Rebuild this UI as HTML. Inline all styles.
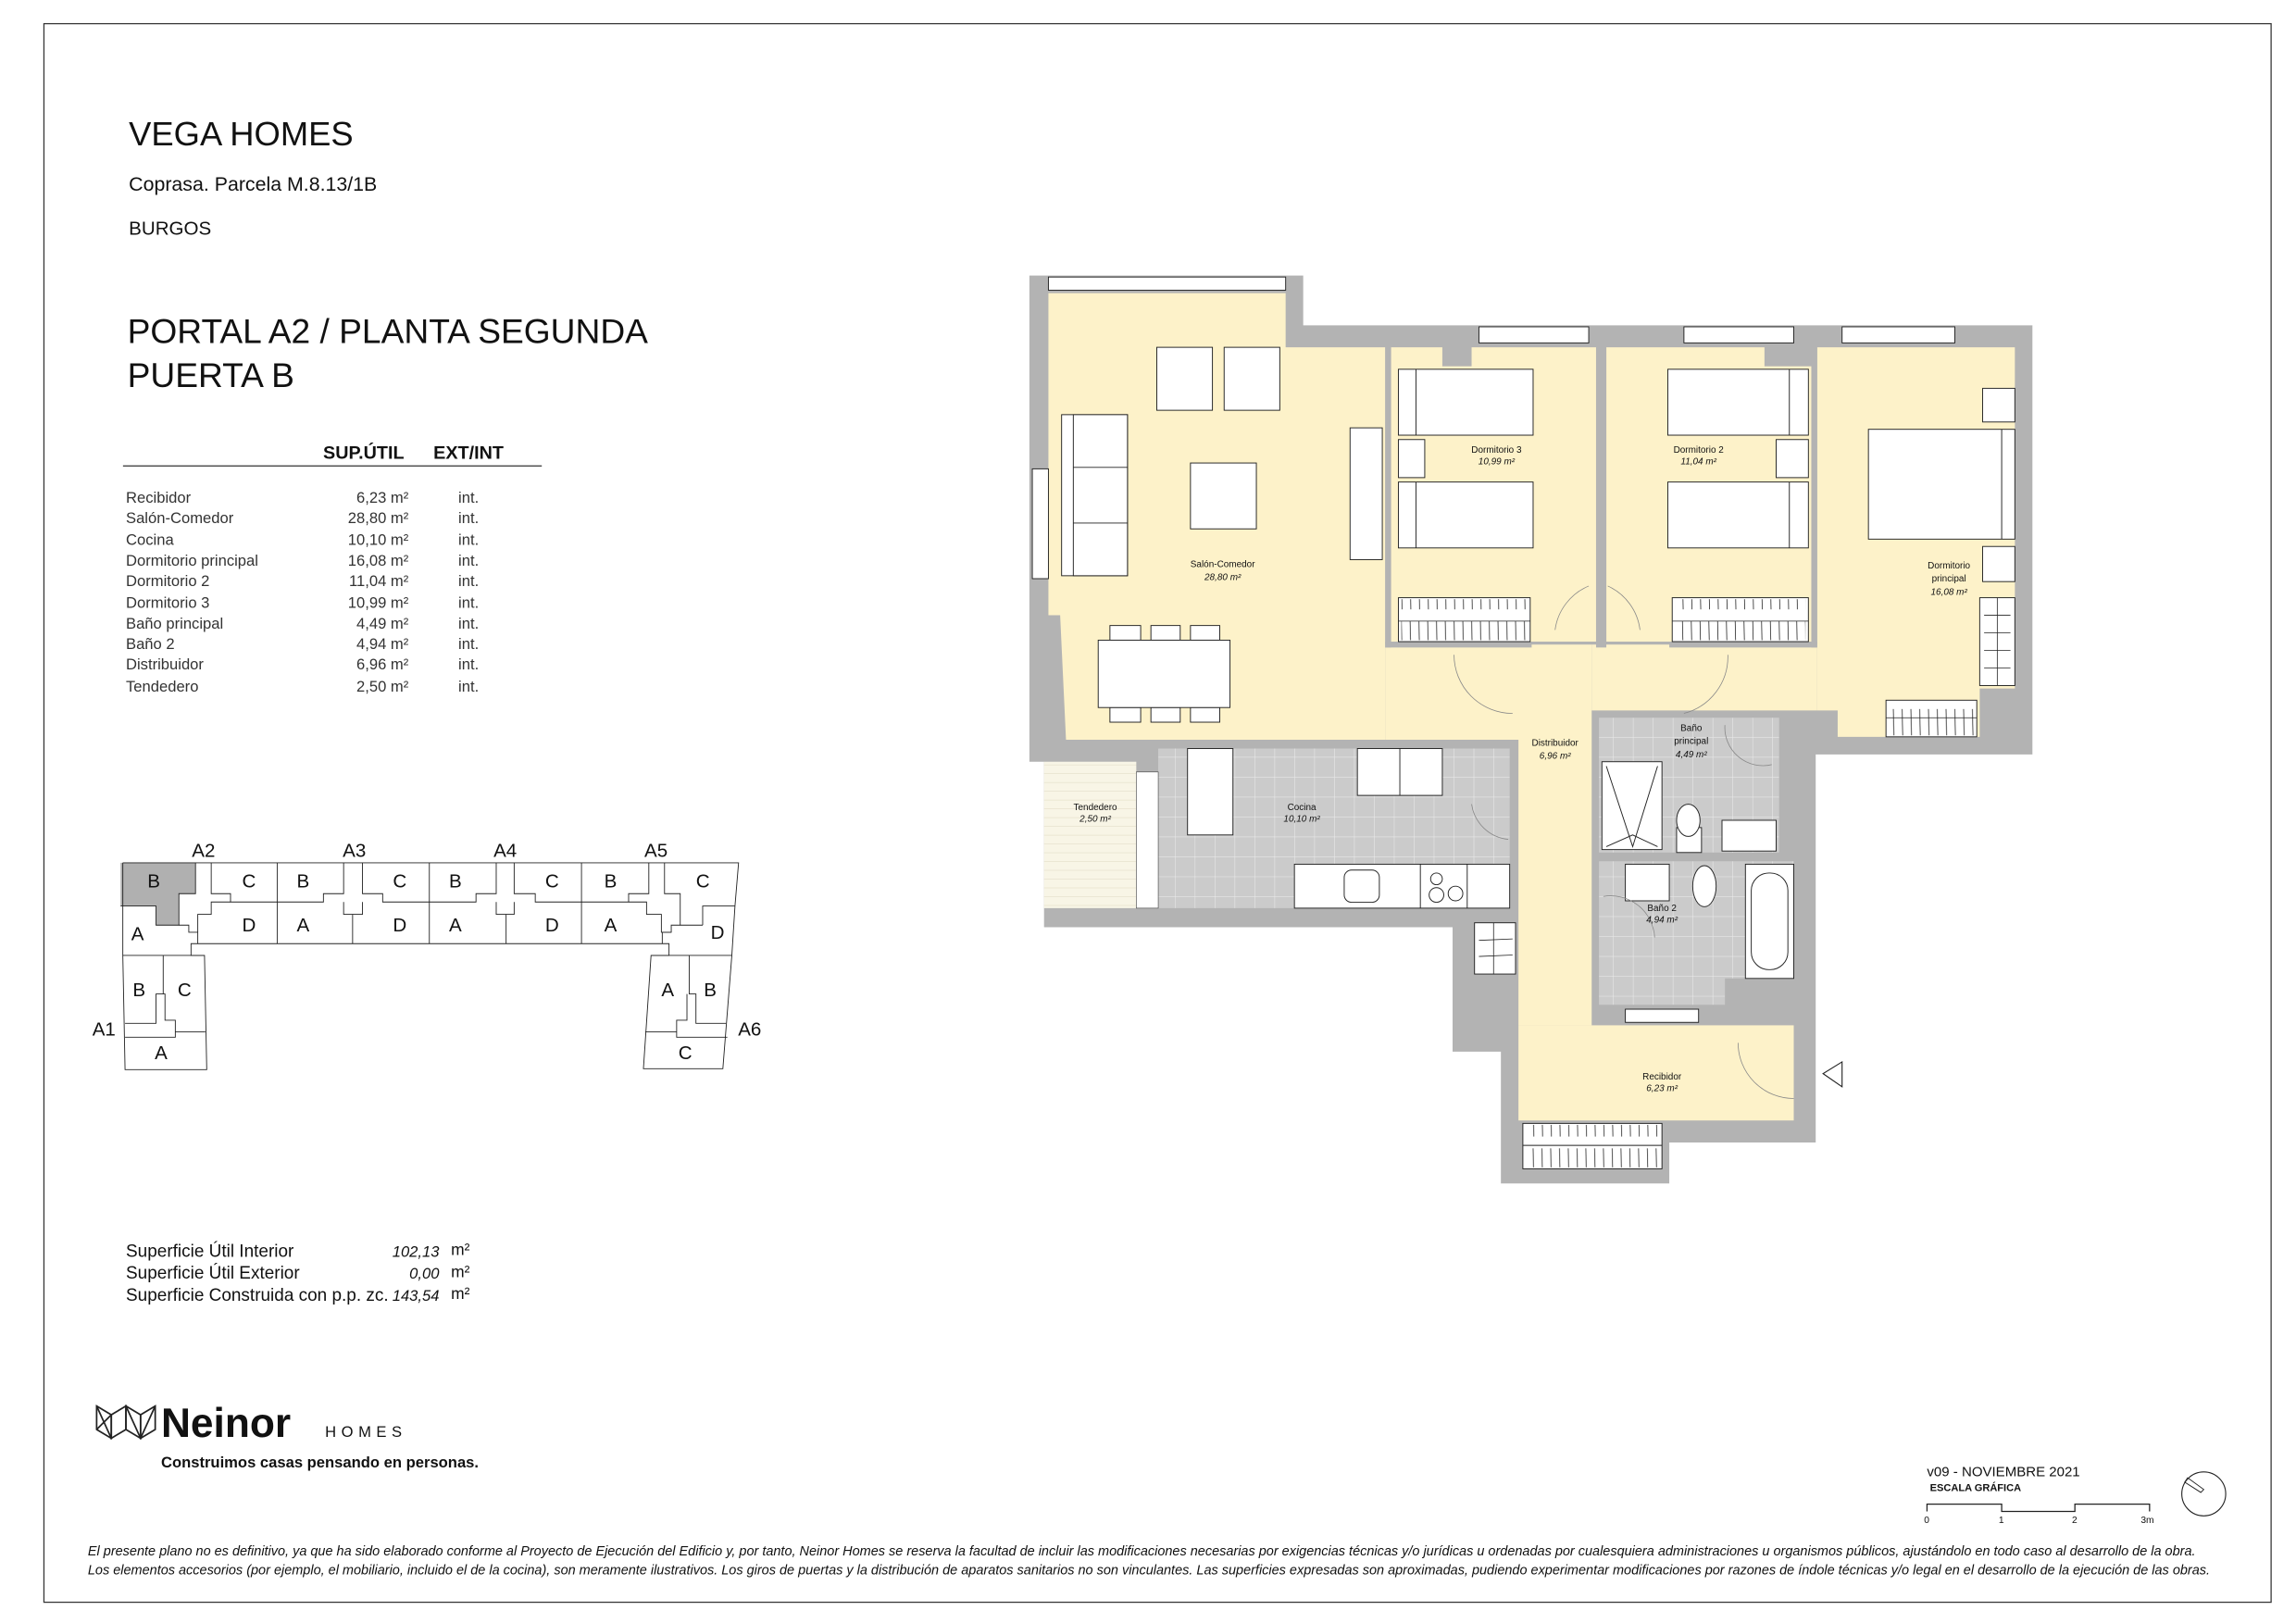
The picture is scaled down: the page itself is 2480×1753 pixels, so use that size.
<!DOCTYPE html>
<html><head><meta charset="utf-8"><style>
html,body{margin:0;padding:0;background:#fff}
svg{display:block}
text{font-family:"Liberation Sans",sans-serif;fill:#111}
.r{font-size:6.3px}
.ri{font-size:6.3px;font-style:italic}
.f{fill:#fff;stroke:#222;stroke-width:0.6}
.k{fill:none;stroke:#222;stroke-width:0.9;vector-effect:non-scaling-stroke}
.d{fill:none;stroke:#888;stroke-width:0.5}
.t{font-size:10.5px;fill:#333}
</style></head><body>
<svg width="2480" height="1753" viewBox="0 0 1568 1108" xmlns="http://www.w3.org/2000/svg">
<rect x="0" y="0" width="1568" height="1108" fill="#fff"/>
<rect x="30" y="16" width="1521" height="1078" fill="none" stroke="#333" stroke-width="0.8"/>

<text x="88" y="99" font-size="23">VEGA HOMES</text>
<text x="88" y="130" font-size="13.5" fill="#222">Coprasa. Parcela M.8.13/1B</text>
<text x="88" y="160" font-size="13" fill="#222">BURGOS</text>
<text x="87" y="234" font-size="23.5">PORTAL A2 / PLANTA SEGUNDA</text>
<text x="87" y="264" font-size="23.5">PUERTA B</text>
<text x="276" y="313" font-size="12.5" font-weight="bold" text-anchor="end">SUP.ÚTIL</text>
<text x="296" y="313" font-size="12.5" font-weight="bold">EXT/INT</text>
<line x1="84" y1="318" x2="370" y2="318" stroke="#333" stroke-width="0.8"/>
<g class="t">
<text x="86" y="343" class="t">Recibidor</text><text x="279" y="343" class="t" text-anchor="end">6,23 m²</text><text x="313" y="343" class="t">int.</text>
<text x="86" y="357" class="t">Salón-Comedor</text><text x="279" y="357" class="t" text-anchor="end">28,80 m²</text><text x="313" y="357" class="t">int.</text>
<text x="86" y="372" class="t">Cocina</text><text x="279" y="372" class="t" text-anchor="end">10,10 m²</text><text x="313" y="372" class="t">int.</text>
<text x="86" y="386" class="t">Dormitorio principal</text><text x="279" y="386" class="t" text-anchor="end">16,08 m²</text><text x="313" y="386" class="t">int.</text>
<text x="86" y="400" class="t">Dormitorio 2</text><text x="279" y="400" class="t" text-anchor="end">11,04 m²</text><text x="313" y="400" class="t">int.</text>
<text x="86" y="415" class="t">Dormitorio 3</text><text x="279" y="415" class="t" text-anchor="end">10,99 m²</text><text x="313" y="415" class="t">int.</text>
<text x="86" y="429" class="t">Baño principal</text><text x="279" y="429" class="t" text-anchor="end">4,49 m²</text><text x="313" y="429" class="t">int.</text>
<text x="86" y="443" class="t">Baño 2</text><text x="279" y="443" class="t" text-anchor="end">4,94 m²</text><text x="313" y="443" class="t">int.</text>
<text x="86" y="457" class="t">Distribuidor</text><text x="279" y="457" class="t" text-anchor="end">6,96 m²</text><text x="313" y="457" class="t">int.</text>
<text x="86" y="472" class="t">Tendedero</text><text x="279" y="472" class="t" text-anchor="end">2,50 m²</text><text x="313" y="472" class="t">int.</text>
</g>

<g transform="translate(56.9,569) scale(0.3065,0.2108)">
<polygon points="83,95 250,95 250,195 213,195 213,297 162,297 162,235 83,235" fill="#b0b0b0"/>
<polyline class="k" points="88,95 1460,95 1452,235 1445,395 1425,762 1248,762 1265,395 1305,395 1305,357 240,357 240,395 270,395 275,765 93,765 88,395 88,95"/>
<polyline class="k" points="83,235 162,235 162,297 213,297 213,195 250,195 250,95"/>
<polyline class="k" points="213,297 235,297 235,320 255,320 255,357"/>
<polyline class="k" points="285,95 285,195 328,195 328,222 535,222 535,195 580,195 580,95"/>
<polyline class="k" points="622,95 622,195 667,195 667,222 875,222 875,195 920,195 920,95"/>
<polyline class="k" points="960,95 960,195 1007,195 1007,222 1215,222 1215,195 1260,195 1260,95"/>
<polyline class="k" points="1295,95 1295,195 1330,195 1330,297 1310,297 1310,320 1290,320 1290,357"/>
<polyline class="k" points="255,320 255,262 285,262 285,222 328,222"/>
<polyline class="k" points="580,222 580,262 622,262 622,222"/>
<polyline class="k" points="920,222 920,262 960,262 960,222"/>
<polyline class="k" points="1215,222 1255,222 1255,262 1288,262 1288,320 1310,320"/>
<polyline class="k" points="1380,297 1380,235 1452,235"/>
<polyline class="k" points="1330,297 1380,297"/>
<line class="k" x1="432" y1="95" x2="432" y2="357"/>
<line class="k" x1="771" y1="95" x2="771" y2="357"/>
<line class="k" x1="1110" y1="95" x2="1110" y2="357"/>
<line class="k" x1="600" y1="262" x2="600" y2="357"/>
<line class="k" x1="942" y1="262" x2="942" y2="357"/>
<line class="k" x1="88" y1="395" x2="270" y2="395"/>
<line class="k" x1="1265" y1="395" x2="1445" y2="395"/>
<polyline class="k" points="178,395 178,520 162,520 162,615 93,615"/>
<polyline class="k" points="178,520 182,520 182,605 205,605 205,660 93,660"/>
<line class="k" x1="205" y1="643" x2="272" y2="643"/>
<polyline class="k" points="1350,395 1350,520 1365,520 1365,615 1432,615"/>
<polyline class="k" points="1345,520 1345,605 1322,605 1322,660 1435,660"/>
<line class="k" x1="1252" y1="643" x2="1322" y2="643"/>
</g>
<g font-size="13" text-anchor="middle">
<text x="139" y="585">A2</text><text x="242" y="585">A3</text><text x="345" y="585">A4</text><text x="448" y="585">A5</text>
<text x="105" y="606">B</text><text x="170" y="606">C</text><text x="207" y="606">B</text><text x="273" y="606">C</text><text x="311" y="606">B</text><text x="377" y="606">C</text><text x="417" y="606">B</text><text x="480" y="606">C</text>
<text x="94" y="642">A</text><text x="170" y="636">D</text><text x="207" y="636">A</text><text x="273" y="636">D</text><text x="311" y="636">A</text><text x="377" y="636">D</text><text x="417" y="636">A</text><text x="490" y="641">D</text>
<text x="95" y="680">B</text><text x="126" y="680">C</text><text x="110" y="723">A</text>
<text x="456" y="680">A</text><text x="485" y="680">B</text><text x="468" y="723">C</text>
<text x="71" y="707">A1</text><text x="512" y="707">A6</text>
</g>

<g font-size="12" fill="#222">
<text x="86" y="858">Superficie Útil Interior</text>
<text x="86" y="873">Superficie Útil Exterior</text>
<text x="86" y="888">Superficie Construida con p.p. zc.</text>
</g>
<g font-size="10.5" font-style="italic" text-anchor="end" fill="#444">
<text x="300" y="858">102,13</text><text x="300" y="873">0,00</text><text x="300" y="888">143,54</text>
</g>
<g font-size="11"><text x="308" y="857">m²</text><text x="308" y="872">m²</text><text x="308" y="887">m²</text></g>

<g fill="none" stroke="#222" stroke-width="1.1">
<polygon points="66,960 76,966 76,982 66,976"/><line x1="66" y1="960" x2="76" y2="982"/><line x1="66" y1="976" x2="76" y2="966"/>
<polygon points="76,966 86,960 86,976 76,982"/>
<polygon points="86,960 96,966 96,982 86,976"/><line x1="86" y1="960" x2="96" y2="982"/>
<polygon points="96,966 106,960 106,976 96,982"/><line x1="106" y1="960" x2="96" y2="982"/>
</g>
<text x="110" y="981" font-size="28" font-weight="bold" fill="#222">Neinor</text>
<text x="222" y="981" font-size="10.5" letter-spacing="3.5" fill="#444">HOMES</text>
<text x="110" y="1002" font-size="10.5" font-weight="bold" fill="#222">Construimos casas pensando en personas.</text>

<text x="1316" y="1008" font-size="9.5" fill="#333">v09 - NOVIEMBRE 2021</text>
<text x="1318" y="1018" font-size="7" font-weight="bold">ESCALA GRÁFICA</text>
<polyline fill="none" stroke="#222" stroke-width="0.8" points="1316,1032 1316,1027 1367,1027 1367,1032 1417,1032 1417,1027 1468,1027 1468,1032"/>
<g font-size="6.5"><text x="1314" y="1040">0</text><text x="1365" y="1040">1</text><text x="1415" y="1040">2</text><text x="1462" y="1040">3m</text></g>
<circle cx="1505" cy="1020" r="15" fill="none" stroke="#222" stroke-width="0.7"/>
<polygon points="1492,1012 1494,1009 1505,1017 1503,1019" fill="none" stroke="#222" stroke-width="0.6"/>

<g font-size="9.15" font-style="italic" fill="#333">
<text x="60" y="1062">El presente plano no es definitivo, ya que ha sido elaborado conforme al Proyecto de Ejecución del Edificio y, por tanto, Neinor Homes se reserva la facultad de incluir las modificaciones necesarias por exigencias técnicas y/o jurídicas u ordenadas por cualesquiera administraciones u organismos públicos, ajustándolo en todo caso al desarrollo de la obra.</text>
<text x="60" y="1075">Los elementos accesorios (por ejemplo, el mobiliario, incluido el de la cocina), son meramente ilustrativos. Los giros de puertas y la distribución de aparatos sanitarios no son vinculantes. Las superficies expresadas son aproximadas, pudiendo experimentar modificaciones por razones de índole técnicas y/o legal en el desarrollo de la ejecución de las obras.</text>
</g>

<!-- FLOOR PLAN -->
<polygon points="703,188 890,188 890,222 1388,222 1388,515 1240,515 1240,780 1140,780 1140,808 1025,808 1025,718 992,718 992,633 713,633 713,520 703,520" fill="#b3b3b3"/>
<g fill="#fdf2c9">
<polygon points="716,200 878,200 878,237 946,237 946,505 728,505 724,420 716,420"/>
<rect x="946" y="440" width="141" height="65"/>
<rect x="1087" y="440" width="154" height="45"/>
<polygon points="950,237 985,237 985,250 1005,250 1005,237 1090,237 1090,438 950,438"/>
<polygon points="1097,237 1205,237 1205,250 1237,250 1237,438 1097,438"/>
<polygon points="1241,237 1376,237 1376,470 1352,470 1352,503 1255,503 1255,485 1241,485"/>
<rect x="1037" y="505" width="50" height="195"/>
<rect x="1037" y="700" width="188" height="65"/>
</g>
<rect x="946" y="237" width="4" height="205" fill="#b3b3b3"/>
<rect x="1090" y="237" width="7" height="205" fill="#b3b3b3"/>
<rect x="1237" y="237" width="4" height="205" fill="#b3b3b3"/>
<rect x="946" y="438" width="100" height="4" fill="#b3b3b3"/>
<rect x="1140" y="438" width="101" height="4" fill="#b3b3b3"/>
<defs>
<pattern id="tile" width="13.6" height="13.6" patternUnits="userSpaceOnUse"><rect width="13.6" height="13.6" fill="#cbcbcb"/><path d="M0 0H13.6M0 0V13.6" stroke="#eee" stroke-width="0.6"/></pattern>
<pattern id="deck" width="10" height="6" patternUnits="userSpaceOnUse"><rect width="10" height="6" fill="#f8f5e6"/><path d="M0 0H10" stroke="#d8d2b8" stroke-width="0.5"/></pattern>
<pattern id="hang" width="6" height="30" patternUnits="userSpaceOnUse"><path d="M3 4 L3.5 26" stroke="#222" stroke-width="0.5"/></pattern>
</defs>
<rect x="791" y="511" width="240" height="109" fill="url(#tile)"/>
<rect x="713" y="520" width="63" height="100" fill="url(#deck)"/>
<rect x="776" y="527" width="15" height="93" fill="#fff" stroke="#444" stroke-width="0.4"/>
<rect x="1092" y="490" width="123" height="92" fill="url(#tile)"/>
<polygon points="1092,588 1225,588 1225,668 1178,668 1178,686 1092,686" fill="url(#tile)"/>

<g class="f">
<rect x="716" y="189" width="162" height="9"/>
<rect x="1010" y="223" width="75" height="11"/>
<rect x="1150" y="223" width="75" height="11"/>
<rect x="1258" y="223" width="77" height="11"/>
<rect x="705" y="320" width="11" height="75"/>
</g>
<g class="f">
<rect x="790" y="237" width="38" height="43"/><rect x="836" y="237" width="38" height="43"/>
<rect x="725" y="283" width="45" height="110"/><rect x="733" y="283" width="37" height="110"/>
<line x1="733" y1="319" x2="770" y2="319"/><line x1="733" y1="357" x2="770" y2="357"/>
<rect x="813" y="316" width="45" height="45"/>
<rect x="922" y="292" width="22" height="90"/>
<rect x="758" y="427" width="21" height="10"/><rect x="786" y="427" width="20" height="10"/><rect x="813" y="427" width="20" height="10"/>
<rect x="758" y="483" width="21" height="10"/><rect x="786" y="483" width="20" height="10"/><rect x="813" y="483" width="20" height="10"/>
<rect x="750" y="437" width="90" height="46"/>
<rect x="955" y="252" width="92" height="45"/><line x1="967" y1="252" x2="967" y2="297"/>
<rect x="955" y="300" width="18" height="26"/>
<rect x="955" y="329" width="92" height="45"/><line x1="967" y1="329" x2="967" y2="374"/>
<rect x="955" y="408" width="90" height="30"/>
<rect x="1139" y="252" width="96" height="45"/><line x1="1222" y1="252" x2="1222" y2="297"/>
<rect x="1213" y="300" width="22" height="26"/>
<rect x="1139" y="329" width="96" height="45"/><line x1="1222" y1="329" x2="1222" y2="374"/>
<rect x="1142" y="408" width="93" height="30"/>
<rect x="1354" y="265" width="22" height="23"/>
<rect x="1276" y="293" width="100" height="75"/><line x1="1367" y1="293" x2="1367" y2="368"/>
<rect x="1354" y="373" width="22" height="24"/>
<rect x="1352" y="408" width="24" height="60"/>
<rect x="1288" y="478" width="62" height="25"/>
<rect x="811" y="511" width="31" height="59"/>
<rect x="927" y="511" width="58" height="32"/><line x1="956" y1="511" x2="956" y2="543"/>
<rect x="884" y="590" width="147" height="30"/><line x1="970" y1="590" x2="970" y2="620"/><line x1="1002" y1="590" x2="1002" y2="620"/>
<rect x="918" y="594" width="24" height="22" rx="5"/>
<circle cx="981" cy="600" r="4"/><circle cx="981" cy="611" r="5"/><circle cx="994" cy="610" r="5"/>
<rect x="1094" y="520" width="41" height="60"/><path d="M1097 523 L1115 578 L1132 523 M1097 578 L1115 570 L1132 578" fill="none"/>
<rect x="1145" y="565" width="17" height="17"/><ellipse cx="1153" cy="560" rx="8" ry="11"/>
<rect x="1176" y="560" width="37" height="21"/>
<rect x="1110" y="590" width="30" height="25"/>
<ellipse cx="1164" cy="605" rx="8" ry="14"/>
<rect x="1192" y="590" width="33" height="78"/><rect x="1196" y="596" width="25" height="66" rx="12"/>
<rect x="1007" y="630" width="28" height="35"/>
<rect x="1040" y="767" width="95" height="31"/><line x1="1040" y1="782" x2="1135" y2="782"/>
<rect x="1110" y="689" width="50" height="9"/>
</g>
<rect x="957" y="409" width="86" height="28" fill="url(#hang)"/>
<rect x="1144" y="409" width="89" height="28" fill="url(#hang)"/>
<rect x="1290" y="479" width="58" height="23" fill="url(#hang)"/>
<rect x="1042" y="768" width="91" height="29" fill="url(#hang)"/>
<g stroke="#222" stroke-width="0.5">
<line x1="955" y1="424" x2="1045" y2="424"/><line x1="1142" y1="424" x2="1235" y2="424"/>
<line x1="1364" y1="408" x2="1364" y2="468"/><line x1="1288" y1="490" x2="1350" y2="490"/>
<line x1="1020" y1="630" x2="1020" y2="665"/>
<line x1="1355" y1="420" x2="1373" y2="420"/><line x1="1355" y1="432" x2="1373" y2="432"/><line x1="1355" y1="444" x2="1373" y2="444"/><line x1="1355" y1="456" x2="1373" y2="456"/>
<line x1="1010" y1="642" x2="1033" y2="641"/><line x1="1010" y1="653" x2="1033" y2="652"/>
</g>
<g class="d">
<path d="M993 447 A 40 40 0 0 0 1033 487"/>
<path d="M1085 400 A 38 38 0 0 0 1062 430"/>
<path d="M1098 400 A 38 38 0 0 1 1120 430"/>
<path d="M1180 447 A 40 40 0 0 1 1150 487"/>
<path d="M1005 549 A 28 28 0 0 0 1030 573"/>
<path d="M1178 495 A 26 26 0 0 0 1210 522"/>
<path d="M1095 612 A 30 30 0 0 1 1130 640"/>
<path d="M1187 712 A 38 38 0 0 0 1225 750"/>
</g>
<polygon points="1258,725 1258,742 1245,733" fill="none" stroke="#222" stroke-width="0.7"/>
<g text-anchor="middle">
<text class="r" x="835" y="387">Salón-Comedor</text><text class="ri" x="835" y="396">28,80 m²</text>
<text class="r" x="1022" y="309">Dormitorio 3</text><text class="ri" x="1022" y="317">10,99 m²</text>
<text class="r" x="1160" y="309">Dormitorio 2</text><text class="ri" x="1160" y="317">11,04 m²</text>
<text class="r" x="1331" y="388">Dormitorio</text><text class="r" x="1331" y="397">principal</text><text class="ri" x="1331" y="406">16,08 m²</text>
<text class="r" x="1062" y="509">Distribuidor</text><text class="ri" x="1062" y="518">6,96 m²</text>
<text class="r" x="1155" y="499">Baño</text><text class="r" x="1155" y="508">principal</text><text class="ri" x="1155" y="517">4,49 m²</text>
<text class="r" x="889" y="553">Cocina</text><text class="ri" x="889" y="561">10,10 m²</text>
<text class="r" x="748" y="553">Tendedero</text><text class="ri" x="748" y="561">2,50 m²</text>
<text class="r" x="1135" y="622">Baño 2</text><text class="ri" x="1135" y="630">4,94 m²</text>
<text class="r" x="1135" y="737">Recibidor</text><text class="ri" x="1135" y="745">6,23 m²</text>
</g>
</svg>
</body></html>
